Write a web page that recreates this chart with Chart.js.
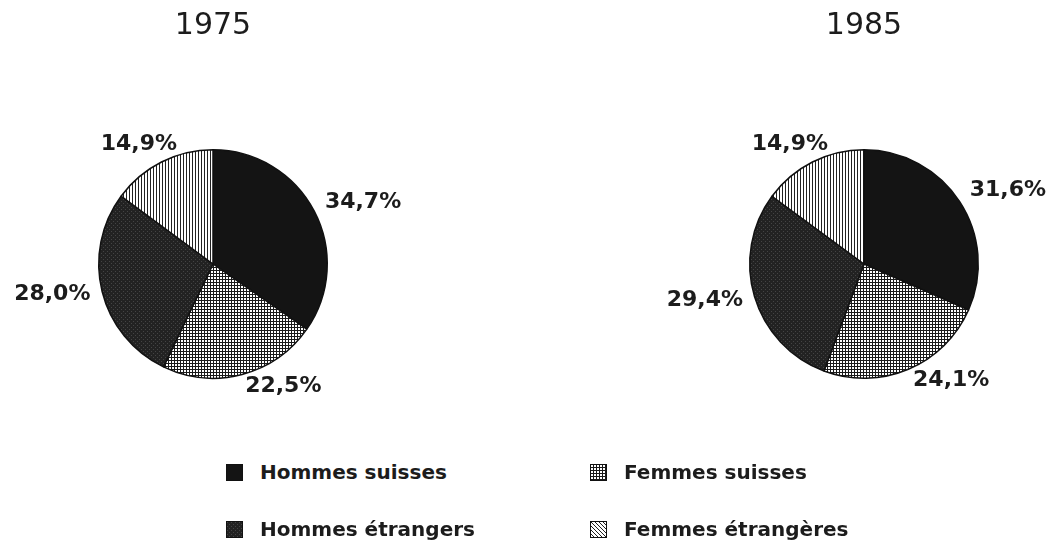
<!DOCTYPE html>
<html lang="fr">
<head>
<meta charset="utf-8">
<title>Population active 1975 / 1985</title>
<script src="https://cdn.jsdelivr.net/npm/chart.js@4.4.0/dist/chart.umd.min.js"></script>
<style>
  html, body { margin: 0; padding: 0; background: #fff; overflow: hidden; }
  body { width: 1055px; height: 545px; position: relative; font-family: "DejaVu Sans", sans-serif; }
  #cadre1975 { position: absolute; left: 0; top: 0; width: 426px; height: 420px; }
  #cadre1985 { position: absolute; left: 620px; top: 0; width: 488px; height: 420px; }
  #legende {
    position: absolute; left: 226px; top: 459px;
    display: grid; grid-template-columns: 364px 320px; row-gap: 31px;
  }
  .item { display: flex; align-items: center; height: 26px; font-size: 20px; font-weight: bold; color: #1c1c1c; white-space: nowrap; }
  .item canvas { width: 17px; height: 17px; margin-right: 17px; }
</style>
</head>
<body>
<div id="cadre1975"><canvas id="graphe1975"></canvas></div>
<div id="cadre1985"><canvas id="graphe1985"></canvas></div>
<div id="legende"></div>

<script>
// Données (en %)
const categories = ['Hommes suisses', 'Femmes suisses', 'Hommes étrangers', 'Femmes étrangères'];
const annees = ['1975', '1985'];
const valeurs1975 = [34.7, 22.5, 28.0, 14.9];
const valeurs1985 = [31.6, 24.1, 29.4, 14.9];

// Motifs de remplissage (style traceur)
function motif(type) {
    const c = document.createElement('canvas');
    const g = c.getContext('2d');
    c.width = 4; c.height = 4;
    g.fillStyle = '#fff';
    g.fillRect(0, 0, 4, 4);
    if (type === 'plein') {
        g.fillStyle = '#141414';
        g.fillRect(0, 0, 4, 4);
    } else if (type === 'grille') {
        c.width = 3; c.height = 3;
        g.fillStyle = '#fff';
        g.fillRect(0, 0, 3, 3);
        g.fillStyle = '#1a1a1a';
        g.fillRect(0, 0, 3, 1);
        g.fillRect(0, 0, 1, 3);
    } else if (type === 'dense') {
        g.fillStyle = '#222';
        g.fillRect(0, 0, 4, 4);
        g.fillStyle = '#444';
        g.fillRect(1, 1, 1, 1);
        g.fillRect(3, 3, 1, 1);
    } else if (type === 'rayures') {
        c.width = 3; c.height = 3;
        g.fillStyle = '#fff';
        g.fillRect(0, 0, 3, 3);
        g.fillStyle = '#222';
        g.fillRect(0, 0, 1, 3);
    } else if (type === 'diagonale') {
        g.fillStyle = '#222';
        for (let i = 0; i < 4; i++) g.fillRect(i, i, 1, 1);
    }
    return g.createPattern(c, 'repeat');
}

const motifs = [motif('plein'), motif('grille'), motif('dense'), motif('rayures')];
const motifsLegende = [motif('plein'), motif('grille'), motif('dense'), motif('diagonale')];

// Étiquettes de pourcentage autour des camemberts
const etiquettes = {
    id: 'etiquettes',
    afterDatasetsDraw(chart) {
        const ctx = chart.ctx;
        const valeurs = chart.data.datasets[0].data;
        ctx.save();
        ctx.font = 'bold 22px "DejaVu Sans"';
        ctx.fillStyle = '#1c1c1c';
        ctx.textBaseline = 'middle';
        chart.getDatasetMeta(0).data.forEach((arc, i) => {
            const p = arc.getProps(['x', 'y', 'startAngle', 'endAngle', 'outerRadius'], true);
            const a = (p.startAngle + p.endAngle) / 2;
            const dx = Math.cos(a), dy = Math.sin(a);
            const r = p.outerRadius + 12;
            let x = p.x + dx * r;
            let y = p.y + dy * r;
            const texte = valeurs[i].toFixed(1).replace('.', ',') + '%';
            const w = ctx.measureText(texte).width;
            if (dx > 0.1) {
                ctx.textAlign = 'left';
            } else if (dx < -0.6) {
                ctx.textAlign = 'right';
            } else {
                ctx.textAlign = 'center';
                x += dx * w / 2;
            }
            if (dy < 0) y += dy * 8;
            ctx.fillText(texte, x, y);
        });
        ctx.restore();
    }
};

// Légende commune en HTML, construite à partir du premier graphique
const legendeHtml = {
    id: 'legendeHtml',
    afterUpdate(chart, args, opts) {
        if (!opts.conteneur) return;
        const conteneur = document.getElementById(opts.conteneur);
        if (!conteneur || conteneur.childElementCount) return;
        const items = chart.options.plugins.legend.labels.generateLabels(chart);
        items.forEach((item, i) => {
            const div = document.createElement('div');
            div.className = 'item';
            const boite = document.createElement('canvas');
            boite.width = 17; boite.height = 17;
            const g = boite.getContext('2d');
            g.fillStyle = motifsLegende[i];
            g.fillRect(0, 0, 17, 17);
            g.strokeStyle = '#111';
            g.lineWidth = 1;
            g.strokeRect(0.5, 0.5, 16, 16);
            const span = document.createElement('span');
            span.textContent = item.text;
            div.appendChild(boite);
            div.appendChild(span);
            conteneur.appendChild(div);
        });
    }
};

function creerCamembert(id, annee, valeurs, conteneurLegende) {
    return new Chart(document.getElementById(id), {
        type: 'pie',
        data: {
            labels: categories,
            datasets: [{
                data: valeurs,
                backgroundColor: motifs,
                borderColor: '#111',
                borderWidth: 1.5
            }]
        },
        options: {
            responsive: true,
            maintainAspectRatio: false,
            animation: false,
            layout: { padding: { top: 0, bottom: 41, left: 0, right: 0 } },
            plugins: {
                legend: { display: false },
                tooltip: { enabled: false },
                title: {
                    display: true,
                    text: annee,
                    color: '#1c1c1c',
                    font: { family: '"DejaVu Sans"', size: 30, weight: 'normal' },
                    padding: { top: 8, bottom: 105 }
                },
                legendeHtml: { conteneur: conteneurLegende }
            }
        },
        plugins: [etiquettes, legendeHtml]
    });
}

creerCamembert('graphe1975', annees[0], valeurs1975, 'legende');
creerCamembert('graphe1985', annees[1], valeurs1985, null);
</script>
</body>
</html>
